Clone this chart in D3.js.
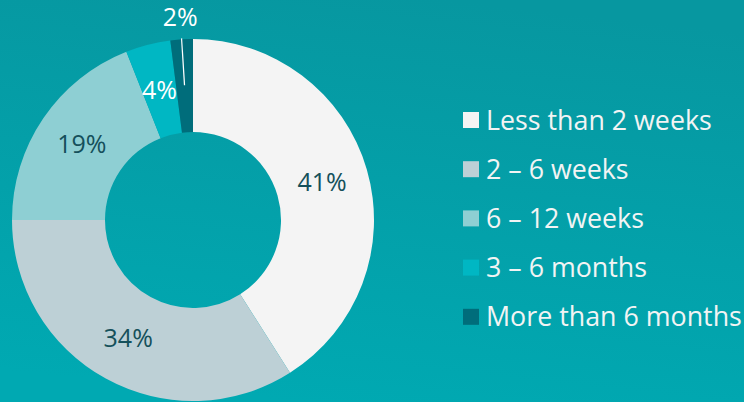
<!DOCTYPE html>
<html>
  <head>
    <meta charset="UTF-8">
    <style>
      body { margin: 0; overflow: hidden; }
      text { font-family: "Open Sans", "Noto Sans", sans-serif; }
    </style>
  </head>
  <body>
    <script src="https://cdn.jsdelivr.net/npm/d3@7"></script>
    <script>

var width = 744;
var height = 402;

// data
var categories = ["Less than 2 weeks", "2 \u2013 6 weeks", "6 \u2013 12 weeks", "3 \u2013 6 months", "More than 6 months"];
var values = [41, 34, 19, 4, 2];
var labels = ["41%", "34%", "19%", "4%", "2%"];
var colors = ["#f4f4f4", "#bdd0d6", "#8ecfd3", "#00b7c3", "#006d7b"];
var labelColors = ["#15505b", "#15505b", "#15505b", "#ffffff", "#ffffff"];

var svg = d3.select("body").append("svg")
    .attr("width", width).attr("height", height);

// background gradient
var grad = svg.append("defs").append("linearGradient")
    .attr("id", "bg")
    .attr("x1", "0.6").attr("y1", "0")
    .attr("x2", "0.4").attr("y2", "1");
grad.append("stop").attr("offset", "0").attr("stop-color", "#0797a0");
grad.append("stop").attr("offset", "1").attr("stop-color", "#00a9b2");

svg.append("rect")
    .attr("width", width).attr("height", height)
    .attr("fill", "url(#bg)");

var cx = 193, cy = 220;
var outer = 181, inner = 88;

var pie = d3.pie().sort(null).value(function(d) { return d; });
var arcs = pie(values);

var arc = d3.arc().innerRadius(inner).outerRadius(outer);

var g = svg.append("g").attr("transform", "translate(" + cx + "," + cy + ")");

g.selectAll(".slice")
    .data(arcs)
    .enter().append("path")
    .attr("class", "slice")
    .attr("d", arc)
    .attr("fill", function(d, i) { return colors[i]; });

// labels: inside slices, except the small last one which goes outside with a leader line
function midAngle(d) { return (d.startAngle + d.endAngle) / 2; }

g.selectAll(".lbl")
    .data(arcs)
    .enter().append("text")
    .attr("class", "lbl")
    .attr("transform", function(d, i) {
        if (i === 4) {
            var a = midAngle(d);
            return "translate(" + (Math.sin(a) * 203) + "," + (-Math.cos(a) * 203) + ")";
        }
        return "translate(" + arc.centroid(d) + ")";
    })
    .attr("text-anchor", "middle")
    .attr("dy", "0.36em")
    .attr("font-size", 25)
    .attr("fill", function(d, i) { return labelColors[i]; })
    .text(function(d, i) { return labels[i]; });

var small = arcs[4];
var a = midAngle(small);
g.append("line")
    .attr("x1", Math.sin(a) * 135).attr("y1", -Math.cos(a) * 135)
    .attr("x2", Math.sin(a) * 182).attr("y2", -Math.cos(a) * 182)
    .attr("stroke", "#ffffff")
    .attr("stroke-width", 1.2);

// legend
var legend = svg.append("g").attr("transform", "translate(463,120)");
var row = legend.selectAll(".row")
    .data(categories)
    .enter().append("g")
    .attr("class", "row")
    .attr("transform", function(d, i) { return "translate(0," + (i * 49.2) + ")"; });

row.append("rect")
    .attr("x", 0).attr("y", -8)
    .attr("width", 16).attr("height", 16)
    .attr("fill", function(d, i) { return colors[i]; });

row.append("text")
    .attr("x", 23)
    .attr("dy", "0.36em")
    .attr("font-size", 26.8)
    .attr("fill", "#f2f4f4")
    .text(function(d) { return d; });

    </script>
  </body>
</html>
